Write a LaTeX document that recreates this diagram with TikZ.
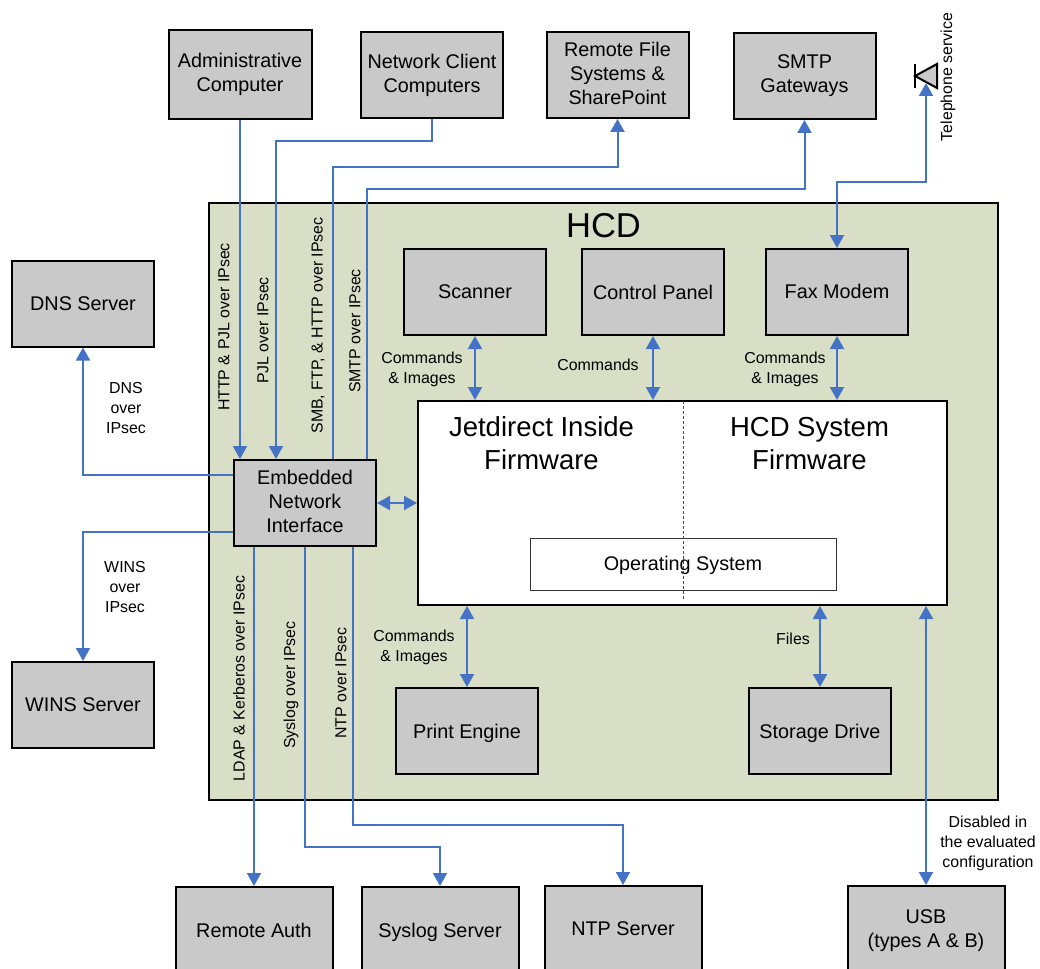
\documentclass[tikz,border=0pt]{standalone}
\usepackage{fontspec}
\setmainfont{Liberation Sans}
\usetikzlibrary{arrows.meta}
\definecolor{boxgray}{HTML}{C9C9C9}
\definecolor{hcdgreen}{HTML}{D9DEC6}
\definecolor{linkblue}{HTML}{4472C4}
\tikzset{
  graybox/.style={draw=black,line width=2pt,fill=boxgray,text=black,align=center,font=\fontsize{19.8}{24}\selectfont,inner sep=0pt},
  extbox/.style={graybox,minimum width=142,minimum height=86},
  widebox/.style={graybox,minimum width=157,minimum height=86},
  wirelabel/.style={font=\fontsize{15.9}{20}\selectfont,align=center,inner sep=0pt},
  sidelabel/.style={wirelabel,rotate=90},
  plainlink/.style={draw=linkblue,line width=2pt},
  link/.style={plainlink,-{Triangle[length=13pt,width=14pt]}},
  duplex/.style={plainlink,{Triangle[length=13pt,width=14pt]}-{Triangle[length=13pt,width=14pt]}}
}
\begin{document}
\begin{tikzpicture}[x=1pt,y=-1pt]
      \useasboundingbox (0,0) rectangle (1040,968);
      % enclosure and firmware
      \node (hcd) [draw=black,line width=2pt,fill=hcdgreen,minimum width=789,minimum height=597,inner sep=0pt] at (603.5,501.5) {};
      \node (hcdtitle) [font=\fontsize{34.5}{40}\selectfont,inner sep=0pt] at (603.5,226) {HCD};
      \node (firmware) [draw=black,line width=2pt,fill=white,minimum width=529,minimum height=204,inner sep=0pt] at (682.5,503) {};
      \node (jetdirect) [font=\fontsize{27.5}{33}\selectfont,align=center,inner sep=0pt] at (541.5,443) {Jetdirect Inside\\Firmware};
      \node (hcdfirmware) [font=\fontsize{27.5}{33}\selectfont,align=center,inner sep=0pt] at (809.5,443.5) {HCD System\\Firmware};
      \node (os) [draw=black!80,line width=0.8pt,fill=white,minimum width=306,minimum height=52,font=\fontsize{19.8}{24}\selectfont,text depth=2pt,inner sep=0pt] at (683,564) {Operating System};
      \coordinate (splittop) at (683,401);
      \coordinate (splitbottom) at (683,601);
      \draw[black!70,line width=0.8pt,dash pattern=on 3pt off 2pt] (splittop) -- (splitbottom);
      % boxes
      \node (admin) [extbox,minimum width=143,minimum height=89] at (240,74.5) {Administrative\\Computer};
      \node (client) [extbox] at (432,75) {Network Client\\Computers};
      \node (remote) [extbox,text depth=4pt] at (617.5,75) {Remote File\\Systems \&\\SharePoint};
      \node (smtp) [extbox] at (804.5,76) {SMTP\\Gateways};
      \node (dns) [extbox] at (83,303.5) {DNS Server};
      \node (wins) [extbox] at (83,705) {WINS Server};
      \node (scanner) [extbox] at (475,292) {Scanner};
      \node (panel) [extbox] at (653,292) {Control Panel};
      \node (fax) [extbox,text depth=2pt] at (837,292) {Fax Modem};
      \node (eni) [extbox,text depth=3pt] at (305,503) {Embedded\\Network\\Interface};
      \node (print) [extbox,text depth=0pt] at (467,731) {Print Engine};
      \node (storage) [extbox,text depth=0pt] at (820,731) {Storage Drive};
      \node (auth) [widebox] at (254,930) {Remote Auth};
      \node (syslog) [widebox,text depth=0pt] at (440,930) {Syslog Server};
      \node (ntp) [widebox] at (623,929) {NTP Server};
      \node (usb) [widebox,text depth=0pt] at (926,929) {USB\\(types A \& B)};
      % telephone symbol
      \coordinate (phone) at (926,83);
      \coordinate (phonebartop) at (914.5,64);
      \coordinate (phonebarbottom) at (914.5,88);
      \draw[black,line width=2pt] (phonebartop) -- (phonebarbottom);
      \draw[black,line width=2pt,fill=boxgray] (937,64) -- (915,76) -- (937,88) -- cycle;
      % connectors
      \draw[link] (admin.south) -- (admin.south |- eni.north);
      \draw[link] (client.south) |- (276,141.5) -- (eni.north -| 276,0);
      \draw[link] (eni.north -| 333,0) |- (remote.south |- 0,167) -- (remote.south);
      \draw[link] (eni.north -| 367,0) |- (smtp.south |- 0,189) -- (smtp.south);
      \draw[duplex] (fax.north) |- (phone |- 0,182) -- (phone);
      \draw[link] (eni.west |- 0,475) -| (dns.south);
      \draw[link] (eni.west |- 0,532) -| (wins.north);
      \draw[link] (eni.south -| auth.north) -- (auth.north);
      \draw[link] (eni.south -| 305,0) |- (syslog.north |- 0,847) -- (syslog.north);
      \draw[link] (eni.south -| 353,0) |- (ntp.north |- 0,824.5) -- (ntp.north);
      \draw[duplex] (eni.east) -- (firmware.west);
      \draw[duplex] (scanner.south) -- (scanner.south |- firmware.north);
      \draw[duplex] (panel.south) -- (panel.south |- firmware.north);
      \draw[duplex] (fax.south) -- (fax.south |- firmware.north);
      \draw[duplex] (print.north) -- (print.north |- firmware.south);
      \draw[duplex] (storage.north) -- (storage.north |- firmware.south);
      \draw[duplex] (usb.north) -- (usb.north |- firmware.south);
      % labels
      \node (l1) [sidelabel] at (224,327) {HTTP \& PJL over IPsec};
      \node (l2) [sidelabel] at (263,330.5) {PJL over IPsec};
      \node (l3) [sidelabel] at (318,325.5) {SMB, FTP, \& HTTP over IPsec};
      \node (l4) [sidelabel] at (355,331) {SMTP over IPsec};
      \node (l5) [sidelabel] at (948,77) {Telephone service};
      \node (l6) [sidelabel] at (239,678.5) {LDAP \& Kerberos over IPsec};
      \node (l7) [sidelabel] at (291,685) {Syslog over IPsec};
      \node (l8) [sidelabel] at (341,683) {NTP over IPsec};
      \node (l9) [wirelabel] at (126,408.5) {DNS\\over\\IPsec};
      \node (l10) [wirelabel] at (125,587.5) {WINS\\over\\IPsec};
      \node (l11) [wirelabel] at (422,369.5) {Commands\\\& Images};
      \node (l12) [wirelabel] at (598,365) {Commands};
      \node (l13) [wirelabel] at (785,369.5) {Commands\\\& Images};
      \node (l14) [wirelabel] at (414,647.5) {Commands\\\& Images};
      \node (l15) [wirelabel] at (793,639) {Files};
      \node (l16) [wirelabel] at (988,843.5) {Disabled in\\the evaluated\\configuration};
    \end{tikzpicture}
\end{document}
